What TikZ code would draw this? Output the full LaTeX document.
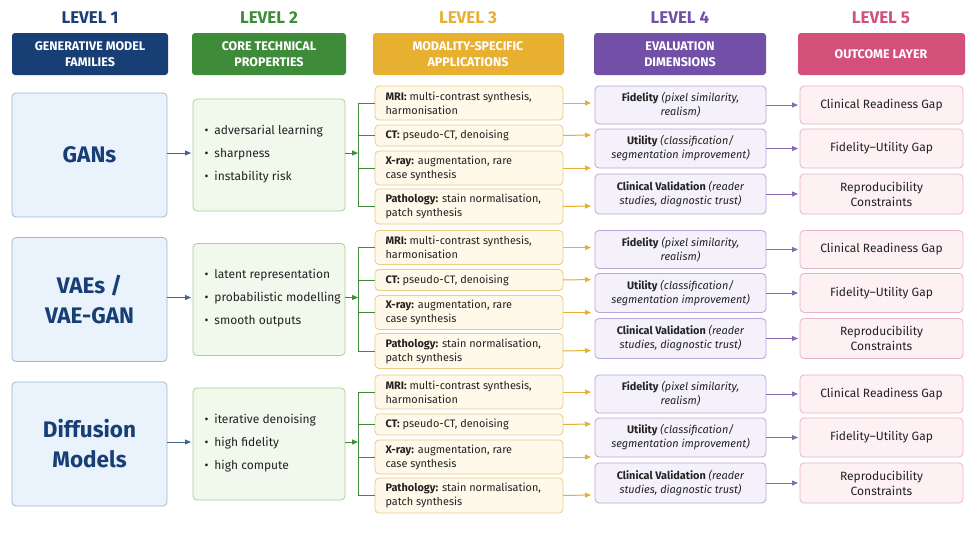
\documentclass[tikz,border=0pt]{standalone}
\usepackage{fontspec}
\setmainfont{Fira Sans}
\usetikzlibrary{arrows.meta}
\definecolor{cA}{HTML}{173F75}\definecolor{fA}{HTML}{EAF2FB}\definecolor{bA}{HTML}{9DB9D8}
\definecolor{cB}{HTML}{3E8B3A}\definecolor{fB}{HTML}{F1F8EC}\definecolor{bB}{HTML}{A9D29B}
\definecolor{cC}{HTML}{E8B030}\definecolor{fC}{HTML}{FFF9EA}\definecolor{bC}{HTML}{EBCB85}
\definecolor{cD}{HTML}{7350A8}\definecolor{fD}{HTML}{F5F1FB}\definecolor{bD}{HTML}{B9A4DB}
\definecolor{cE}{HTML}{D3507A}\definecolor{fE}{HTML}{FDF1F4}\definecolor{bE}{HTML}{EBB4C4}
\definecolor{txt}{HTML}{222222}
\begin{document}
\begin{tikzpicture}[x=1pt,y=-1pt,
 lvl/.style={font=\bfseries\fontsize{17}{17}\selectfont},
 hd/.style={rounded corners=3pt,draw=none,text=white,align=center,font=\bfseries\fontsize{12.5}{15.5}\selectfont},
 box/.style={rounded corners=4pt,line width=0.8pt,inner sep=0pt},
 it/.style={font=\fontsize{12}{15}\selectfont,text=txt},
 is/.style={font=\fontsize{10.9}{14}\selectfont,text=txt},
 arr/.style={-{Triangle[length=6pt,width=5pt]},line width=1pt}]
\fill[white] (0,0) rectangle (975,536);
\foreach \x/\n/\c in {90/1/cA,269/2/cB,468/3/cC,680/4/cD,881/5/cE}
  \node[lvl,text=\c] (lv\n) at (\x,18) {LEVEL \n};
\path[hd,fill=cA] (12,33) rectangle (168,75); \node[hd] (h1) at (90,54) {GENERATIVE MODEL\\FAMILIES};
\path[hd,fill=cB] (192,33) rectangle (346,75); \node[hd] (h2) at (269,54) {CORE TECHNICAL\\PROPERTIES};
\path[hd,fill=cC] (373,33) rectangle (564,75); \node[hd] (h3) at (468,54) {MODALITY-SPECIFIC\\APPLICATIONS};
\path[hd,fill=cD] (594,33) rectangle (766,75); \node[hd] (h4) at (680,54) {EVALUATION\\DIMENSIONS};
\path[hd,fill=cE] (798,33) rectangle (965,75); \node[hd] (h5) at (881,54) {OUTCOME LAYER};
\foreach \g/\name/\pa/\pb/\pc in {0/GANs/adversarial learning/sharpness/instability risk,
  1/{VAEs /\\VAE-GAN}/latent representation/probabilistic modelling/smooth outputs,
  2/{Diffusion\\Models}/iterative denoising/high fidelity/high compute}{
 \begin{scope}[yshift={-\g*144.5pt}]
 \draw[box,draw=bA,fill=fA] (12,93) rectangle (167,217);
 \node[align=center,text=cA,font=\bfseries\fontsize{22.5}{30}\selectfont] (m\g) at (89.5,155) {\name};
 \draw[box,draw=bB,fill=fB] (193,99) rectangle (345,211);
 \node[it,anchor=west] (p\g a) at (201,131) {\textbullet\enspace\pa};
 \node[it,anchor=west] (p\g b) at (201,154) {\textbullet\enspace\pb};
 \node[it,anchor=west] (p\g c) at (201,177) {\textbullet\enspace\pc};
 \coordinate (L\g) at (167,153); \coordinate (R\g) at (191,153);
 \draw[arr,draw=cA!80,fill=cA!80] (L\g) -- (R\g);
 \coordinate (P\g) at (345,153); \coordinate (B\g) at (358,153);
 \draw[arr,draw=cB,fill=cB] (P\g) -- (B\g);
 \foreach \k/\ya/\yb/\t in {1/86/120/{\textbf{MRI:} multi-contrast synthesis,\\harmonisation},
   2/125/146/{\textbf{CT:} pseudo-CT, denoising},
   3/151/185/{\textbf{X-ray:} augmentation, rare\\case synthesis},
   4/189/224/{\textbf{Pathology:} stain normalisation,\\patch synthesis}}{
   \draw[box,draw=bC,fill=fC] (375,\ya) rectangle (563,\yb);
   \node[is,anchor=west,align=left] (q\g\k) at (382,{(\ya+\yb)/2}) {\t};
   \coordinate (qL\g\k) at (375,{(\ya+\yb)/2});
   \coordinate (qR\g\k) at (563,{(\ya+\yb)/2});
   \draw[cB,line width=1pt] (B\g) |- (qL\g\k);
 }
 \foreach \k/\ya/\yb/\t/\o in {1/86/124/{\textbf{Fidelity} \textit{(pixel similarity,}\\\textit{realism)}}/Clinical Readiness Gap,
   2/129/168/{\textbf{Utility} \textit{(classification/}\\\textit{segmentation improvement)}}/Fidelity–Utility Gap,
   3/174/214/{\textbf{Clinical Validation} \textit{(reader}\\\textit{studies, diagnostic trust)}}/{Reproducibility\\Constraints}}{
   \draw[box,draw=bD,fill=fD] (595,\ya) rectangle (766,\yb);
   \node[is,align=center] (e\g\k) at (680.5,{(\ya+\yb)/2}) {\t};
   \draw[box,draw=bE,fill=fE] (800,\ya) rectangle (963,\yb);
   \node[it,align=center] (o\g\k) at (881.5,{(\ya+\yb)/2}) {\o};
   \coordinate (eR\g\k) at (766,{(\ya+\yb)/2});
   \coordinate (oL\g\k) at (798,{(\ya+\yb)/2});
   \draw[arr,draw=cD!85,fill=cD!85] (eR\g\k) -- (oL\g\k);
 }
 \coordinate (t1) at (591,103); \coordinate (t2) at (591,135);
 \coordinate (t3) at (591,168); \coordinate (t4) at (591,206);
 \foreach \k in {1,...,4}
   \draw[arr,draw=cC,fill=cC] (qR\g\k) -- (t\k);
 \end{scope}}
\end{tikzpicture}
\end{document}
